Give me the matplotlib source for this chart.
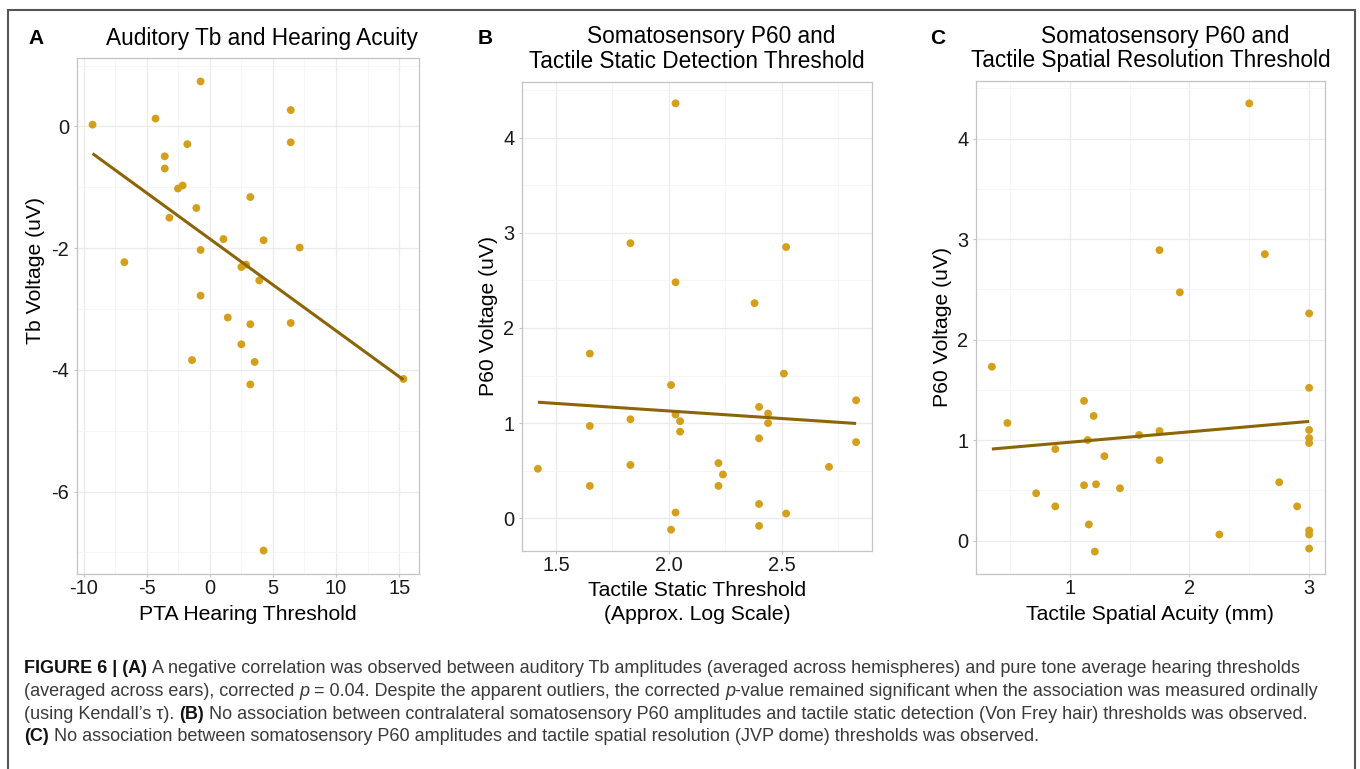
import numpy as np
import matplotlib
matplotlib.use("Agg")
import matplotlib.pyplot as plt
from matplotlib.ticker import MultipleLocator, FormatStrFormatter
from matplotlib.patches import Rectangle

plt.rcParams['font.family'] = ['Liberation Sans', 'DejaVu Sans']
plt.rcParams['axes.unicode_minus'] = False

# panel A: PTA hearing threshold vs auditory Tb voltage
a_pta = [-9.29, -4.30, -0.73, 6.41, 6.41, -1.78, -3.57, -3.57, -2.15, -2.52, 3.21,
         -1.07, -3.20, 1.08, 4.26, 7.12, -0.73, -6.77, 2.87, 2.50, 3.92, -0.73,
         1.42, 3.21, 6.41, 2.50, -1.41, 3.55, 3.21, 15.34, 4.26]
a_tb = [0.03, 0.13, 0.74, 0.27, -0.26, -0.29, -0.49, -0.69, -0.97, -1.02, -1.16,
        -1.34, -1.50, -1.85, -1.87, -1.99, -2.03, -2.23, -2.27, -2.31, -2.53, -2.78,
        -3.14, -3.25, -3.23, -3.58, -3.84, -3.87, -4.24, -4.15, -6.97]

# panel B: tactile static threshold vs P60
b_static = [1.42, 1.65, 1.65, 1.65, 1.83, 1.83, 1.83, 2.03, 2.03, 2.01, 2.03, 2.05,
            2.05, 2.03, 2.01, 2.22, 2.24, 2.22, 2.38, 2.40, 2.44, 2.44, 2.40, 2.40,
            2.40, 2.52, 2.51, 2.52, 2.71, 2.83, 2.83]
b_p60 = [0.52, 1.73, 0.97, 0.34, 2.89, 1.04, 0.56, 4.36, 2.48, 1.40, 1.09, 1.02,
         0.91, 0.06, -0.12, 0.58, 0.46, 0.34, 2.26, 1.17, 1.10, 1.00, 0.84, 0.15,
         -0.08, 2.85, 1.52, 0.05, 0.54, 1.24, 0.80]

# panel C: tactile spatial acuity vs P60
c_acuity = [0.35, 0.48, 0.72, 0.88, 0.88, 1.12, 1.12, 1.15, 1.16, 1.20, 1.22, 1.21,
            1.29, 1.42, 1.58, 1.75, 1.75, 1.75, 1.92, 2.25, 2.50, 2.63, 2.75, 2.90,
            3.0, 3.0, 3.0, 3.0, 3.0, 3.0, 3.0, 3.0]
c_p60 = [1.73, 1.17, 0.47, 0.91, 0.34, 1.39, 0.55, 1.00, 0.16, 1.24, 0.56, -0.11,
         0.84, 0.52, 1.05, 2.89, 1.09, 0.80, 2.47, 0.06, 4.35, 2.85, 0.58, 0.34,
         2.26, 1.52, 1.10, 1.02, 0.97, 0.10, 0.06, -0.08]

W, H = 1360, 769
PT_COL = '#D4A01C'
LINE_COL = '#8B6508'
GRID_MAJ = '#EBEBEB'
GRID_MIN = '#F5F5F5'
BORDER = '#C4C4C4'

fig = plt.figure(figsize=(W / 100, H / 100), dpi=100)


def fx(x):
    return x / W


def fy(y):
    return 1 - y / H


def add_ax(l, t, r, b):
    return fig.add_axes([l / W, 1 - b / H, (r - l) / W, (b - t) / H])


def panel(ax, x, y, xmaj, xmin, ymaj, ymin, xfmt=None):
    x = np.asarray(x)
    y = np.asarray(y)
    ax.set_axisbelow(True)
    ax.scatter(x, y, s=32, color=PT_COL, edgecolors='none', zorder=3)
    k, c = np.polyfit(x, y, 1)
    xs = np.array([x.min(), x.max()])
    ax.plot(xs, k * xs + c, color=LINE_COL, lw=2.2, zorder=4, solid_capstyle='butt')
    dx = (x.max() - x.min()) * 0.05
    dy = (y.max() - y.min()) * 0.05
    ax.set_xlim(x.min() - dx, x.max() + dx)
    ax.set_ylim(y.min() - dy, y.max() + dy)
    ax.xaxis.set_major_locator(MultipleLocator(xmaj))
    ax.xaxis.set_minor_locator(MultipleLocator(xmin))
    ax.yaxis.set_major_locator(MultipleLocator(ymaj))
    ax.yaxis.set_minor_locator(MultipleLocator(ymin))
    if xfmt:
        ax.xaxis.set_major_formatter(FormatStrFormatter(xfmt))
    ax.grid(True, which='major', color=GRID_MAJ, lw=0.9)
    ax.grid(True, which='minor', color=GRID_MIN, lw=0.6)
    for sp in ax.spines.values():
        sp.set_color(BORDER)
        sp.set_linewidth(0.9)
    ax.tick_params(which='major', length=2.5, width=0.8, color=BORDER,
                   labelsize=14.4, labelcolor='#1a1a1a')
    ax.tick_params(axis='x', pad=1.0)
    ax.tick_params(axis='y', pad=3)
    ax.tick_params(which='minor', length=0)


axA = add_ax(77, 58, 419, 574)
panel(axA, a_pta, a_tb, 5, 2.5, 2, 1)
axB = add_ax(522, 82, 872, 551)
panel(axB, b_static, b_p60, 0.5, 0.25, 1, 0.5, '%.1f')
axC = add_ax(976, 81, 1325, 574)
panel(axC, c_acuity, c_p60, 1, 0.5, 1, 0.5)

# titles, panel letters and axis labels
tkw = dict(fontsize=16.3, ha='center', va='center', color='black')
fig.text(fx(262), fy(38), 'Auditory Tb and Hearing Acuity', **tkw)
fig.text(fx(711), fy(37), 'Somatosensory P60 and', **tkw)
fig.text(fx(697), fy(62), 'Tactile Static Detection Threshold', **tkw)
fig.text(fx(1165), fy(37), 'Somatosensory P60 and', **tkw)
fig.text(fx(1151), fy(61), 'Tactile Spatial Resolution Threshold', **tkw)

lkw = dict(fontsize=15, fontweight='bold', ha='center', va='center', color='black')
fig.text(fx(36), fy(38), 'A', **lkw)
fig.text(fx(485), fy(38), 'B', **lkw)
fig.text(fx(938), fy(38), 'C', **lkw)

akw = dict(fontsize=15.2, ha='center', va='center', color='black')
fig.text(fx(36), fy(270), 'Tb Voltage (uV)', rotation=90, **akw)
fig.text(fx(488), fy(316), 'P60 Voltage (uV)', rotation=90, **akw)
fig.text(fx(942), fy(327), 'P60 Voltage (uV)', rotation=90, **akw)
fig.text(fx(248), fy(614), 'PTA Hearing Threshold', **akw)
fig.text(fx(697), fy(591), 'Tactile Static Threshold', **akw)
fig.text(fx(697), fy(614), '(Approx. Log Scale)', **akw)
fig.text(fx(1150), fy(614), 'Tactile Spatial Acuity (mm)', **akw)

# caption with mixed bold / italic runs
cap_lines = [
    [('FIGURE 6 | (A)', 'b', ' '),
     ('A negative correlation was observed between auditory Tb amplitudes (averaged across '
      'hemispheres) and pure tone average hearing thresholds', 'n', '')],
    [('(averaged across ears), corrected', 'n', ' '), ('p', 'i', ' '),
     ('= 0.04. Despite the apparent outliers, the corrected', 'n', ' '), ('p', 'i', ''),
     ('-value remained significant when the association was measured ordinally', 'n', '')],
    [('(using Kendall\u2019s \u03c4).', 'n', ' '), ('(B)', 'b', ' '),
     ('No association between contralateral somatosensory P60 amplitudes and tactile static '
      'detection (Von Frey hair) thresholds was observed.', 'n', '')],
    [('(C)', 'b', ' '),
     ('No association between somatosensory P60 amplitudes and tactile spatial resolution '
      '(JVP dome) thresholds was observed.', 'n', '')],
]
cap_y = [673, 696, 719, 741]
CAP_LEFT, CAP_RIGHT = 24, 1325

renderer = fig.canvas.get_renderer()


def run_kw(st, size):
    kw = dict(fontsize=size, va='baseline', ha='left', color='#3a3a3a')
    if st == 'b':
        kw.update(fontweight='bold', color='#111111')
    elif st == 'i':
        kw.update(fontstyle='italic')
    return kw


def width_of(s, **kw):
    t = fig.text(0, 0, s, **kw)
    w = t.get_window_extent(renderer).width
    t.remove()
    return w


def line_width(runs, size):
    sp = width_of('a a', fontsize=size) - width_of('aa', fontsize=size)
    total = 0
    for txt, st, gap in runs:
        total += width_of(txt, **run_kw(st, size))
        if gap:
            total += sp
    return total


# the second caption line runs the full width of the frame
cap_size = 11.4 * (CAP_RIGHT - CAP_LEFT) / line_width(cap_lines[1], 11.4)
space_w = width_of('a a', fontsize=cap_size) - width_of('aa', fontsize=cap_size)

for runs, yy in zip(cap_lines, cap_y):
    x = CAP_LEFT
    for txt, st, gap in runs:
        t = fig.text(fx(x), fy(yy), txt, **run_kw(st, cap_size))
        x += t.get_window_extent(renderer).width
        if gap:
            x += space_w

# outer frame of the figure
fig.patches.append(Rectangle((fx(8), fy(800)), fx(1355) - fx(8), fy(10) - fy(800),
                             transform=fig.transFigure, fill=False,
                             edgecolor='#555555', lw=1.5, clip_on=False))

fig.savefig('out.png', dpi=100)
